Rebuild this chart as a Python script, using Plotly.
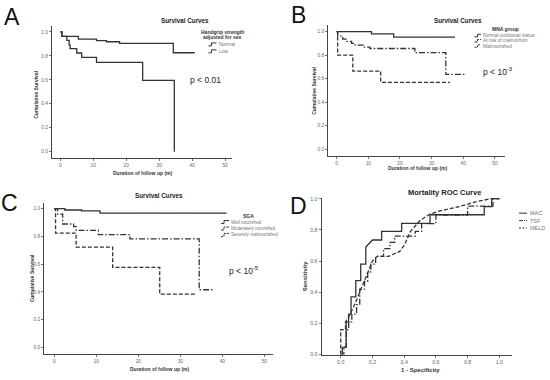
import plotly.graph_objects as go

W, H = 550, 380

# ---------------- data ----------------
# A: Handgrip strength adjusted for sex
a_normal_t = [0, 0.5, 5.5, 11, 14, 18, 34.3, 40.8]
a_normal_s = [1.0, 0.963, 0.94, 0.928, 0.918, 0.905, 0.826, 0.826]
a_low_t = [0, 0.5, 2, 2.7, 3, 5, 6.5, 11, 25, 34.6]
a_low_s = [1.0, 0.963, 0.93, 0.89, 0.86, 0.824, 0.787, 0.746, 0.596, 0.0]

# B: MNA group
b_normal_t = [0, 11, 18, 37.4]
b_normal_s = [1.0, 0.98, 0.952, 0.952]
b_risk_t = [0, 0.3, 1.9, 3.2, 4.7, 5.8, 8.4, 10.5, 24.7, 34.5, 40.5]
b_risk_s = [1.0, 0.962, 0.935, 0.916, 0.9, 0.885, 0.868, 0.856, 0.82, 0.636, 0.636]
b_mal_t = [0, 0.3, 5.1, 13.9, 35.8]
b_mal_s = [1.0, 0.8, 0.664, 0.568, 0.568]

# C: SGA
c_well_t = [0, 2.5, 6.5, 10.9, 41]
c_well_s = [1.0, 0.99, 0.983, 0.967, 0.967]
c_mod_t = [0, 0.8, 2.0, 4.6, 5.2, 10.5, 18, 34.5, 37.7]
c_mod_s = [1.0, 0.96, 0.889, 0.87, 0.843, 0.812, 0.782, 0.415, 0.415]
c_sev_t = [0, 0.3, 5.2, 13.9, 25.1, 33.9]
c_sev_s = [1.0, 0.823, 0.723, 0.576, 0.384, 0.384]

# D: ROC curves
mac_fpr = [0, 0.01, 0.01, 0.034, 0.034, 0.05, 0.05, 0.065, 0.065, 0.095, 0.095, 0.126, 0.126,
           0.158, 0.158, 0.2, 0.258, 0.258, 0.384, 0.384, 0.563, 0.563, 0.905, 0.905, 0.952, 0.952, 1.0]
mac_tpr = [0, 0, 0.046, 0.046, 0.21, 0.21, 0.26, 0.26, 0.37, 0.37, 0.475, 0.475, 0.58,
           0.58, 0.69, 0.735, 0.735, 0.79, 0.79, 0.842, 0.842, 0.897, 0.897, 0.949, 0.949, 1.0, 1.0]
tsf_fpr = [0, 0.02, 0.02, 0.035, 0.035, 0.05, 0.05, 0.07, 0.07, 0.1, 0.1, 0.12, 0.12, 0.15, 0.15,
           0.17, 0.17, 0.19, 0.19, 0.22, 0.22, 0.27, 0.27, 0.31, 0.31, 0.34, 0.34, 0.47, 0.47,
           0.51, 0.51, 0.6, 0.6, 0.8, 0.8, 0.96, 0.96, 1.0]
tsf_tpr = [0, 0, 0.05, 0.05, 0.16, 0.16, 0.21, 0.21, 0.26, 0.26, 0.32, 0.32, 0.42, 0.42, 0.47,
           0.47, 0.53, 0.53, 0.58, 0.58, 0.63, 0.63, 0.68, 0.68, 0.72, 0.72, 0.76, 0.76, 0.79,
           0.79, 0.84, 0.84, 0.895, 0.895, 0.952, 0.952, 1.0, 1.0]
meld_fpr = [0, 0, 0.03, 0.03, 0.06, 0.08, 0.1, 0.12, 0.14, 0.16, 0.18, 0.2, 0.23, 0.3, 0.37,
            0.4, 0.44, 0.5, 0.56, 0.62, 0.75, 0.85, 0.95, 1.0]
meld_tpr = [0, 0.16, 0.16, 0.21, 0.26, 0.3, 0.35, 0.4, 0.45, 0.5, 0.55, 0.6, 0.63, 0.63, 0.66,
            0.7, 0.79, 0.86, 0.9, 0.92, 0.95, 0.98, 1.0, 1.0]

km_ticks = [0, 10, 20, 30, 40, 50]
prob_ticks = [0.0, 0.2, 0.4, 0.6, 0.8, 1.0]

# ---------------- styling helpers ----------------
FONT = "Arial, Liberation Sans, sans-serif"
LINE = "#333333"
SOLID = "solid"
DASH = "4px,2px"
DASHDOT = "6px,2px,1.5px,2px"


def px(x):
    return x / W


def py(y):
    return 1 - y / H


fig = go.Figure()


def add(t, s, dash, xa, ya, shape="hv", name=None):
    fig.add_trace(go.Scatter(x=t, y=s, mode="lines", line_shape=shape,
                             line=dict(color=LINE, width=1.3, dash=dash),
                             xaxis=xa, yaxis=ya, showlegend=False, name=name,
                             hoverinfo="skip"))


add(a_normal_t, a_normal_s, SOLID, "x", "y", name="Normal")
add(a_low_t, a_low_s, SOLID, "x", "y", name="Low")
add(b_normal_t, b_normal_s, SOLID, "x2", "y2", name="Normal nutritional status")
add(b_risk_t, b_risk_s, DASHDOT, "x2", "y2", name="At risk of malnutrition")
add(b_mal_t, b_mal_s, DASH, "x2", "y2", name="Malnourished")
add(c_well_t, c_well_s, SOLID, "x3", "y3", name="Well nourished")
add(c_mod_t, c_mod_s, DASHDOT, "x3", "y3", name="Moderately nourished")
add(c_sev_t, c_sev_s, DASH, "x3", "y3", name="Severely malnourished")
add(mac_fpr, mac_tpr, SOLID, "x4", "y4", shape="linear", name="MAC")
add(tsf_fpr, tsf_tpr, DASHDOT, "x4", "y4", shape="linear", name="TSF")
add(meld_fpr, meld_tpr, DASH, "x4", "y4", shape="linear", name="MELD")


def axis(domain_px, rng, ticks, fmt, horizontal, anchor, size=4.8):
    if horizontal:
        dom = [px(domain_px[0]), px(domain_px[1])]
    else:
        dom = [py(domain_px[1]), py(domain_px[0])]
    return dict(domain=dom, range=rng, tickvals=ticks, tickformat=fmt,
                showline=True, linecolor="#444", linewidth=1.2, ticks="outside",
                ticklen=2, tickcolor="#777", tickwidth=0.8,
                tickfont=dict(size=size, color="#666", family=FONT),
                showgrid=False, zeroline=False, anchor=anchor, fixedrange=True)


layout = dict(
    width=W, height=H, margin=dict(l=0, r=0, t=0, b=0),
    paper_bgcolor="white", plot_bgcolor="white", showlegend=False,
    font=dict(family=FONT),
    xaxis=axis([52, 232], [-2.5, 52.1], km_ticks, "d", True, "y"),
    yaxis=axis([24, 158], [-0.052, 1.052], prob_ticks, ".1f", False, "x"),
    xaxis2=axis([328.3, 505], [-2.65, 53.2], km_ticks, "d", True, "y2"),
    yaxis2=axis([23.3, 155.7], [-0.056, 1.056], prob_ticks, ".1f", False, "x2"),
    xaxis3=axis([44.3, 273], [-2.38, 52.07], km_ticks, "d", True, "y3"),
    yaxis3=axis([203.3, 356.7], [-0.048, 1.043], prob_ticks, ".1f", False, "x3"),
    xaxis4=axis([321.7, 511.7], [-0.12, 1.078], prob_ticks, ".1f", True, "y4", 5.3),
    yaxis4=axis([198.5, 357.3], [0, 1.005], prob_ticks, ".1f", False, "x4", 5.3),
)
fig.update_layout(**layout)

ann = []


def text(x, y, s, size=5, color="#333", bold=False, xanchor="center", angle=0):
    if bold:
        s = "<b>" + s + "</b>"
    ann.append(dict(x=px(x), y=py(y), xref="paper", yref="paper", text=s, showarrow=False,
                    xanchor=xanchor, yanchor="middle", textangle=angle,
                    font=dict(size=size, color=color, family=FONT)))


# panel letters
text(12, 15, "A", 23, "#111")
text(299, 13, "B", 23, "#111")
text(9, 203.5, "C", 23, "#111")
text(299, 207, "D", 23, "#111")

# titles
text(185, 19, "Survival Curves", 6.3, "#222", True)
text(458, 19, "Survival Curves", 6.3, "#222", True)
text(159, 196, "Survival Curves", 6.3, "#222", True)
text(444, 193.5, "Mortality ROC Curve", 7.5, "#222", True)

# axis titles
text(142, 173, "Duration of follow up (m)", 5, "#333", True)
text(36, 94, "Cumulative Survival", 5, "#333", True, angle=-90)
text(417, 168, "Duration of follow up (m)", 5, "#333", True)
text(314, 90, "Cumulative Survival", 5, "#333", True, angle=-90)
text(159, 371.5, "Duration of follow up (m)", 5, "#333", True)
text(32, 280, "Cumulative Survival", 5, "#333", True, angle=-90)
text(420, 373, "1 - Specificity", 6, "#333", True)
text(305, 278, "Sensitivity", 6, "#333", True, angle=-90)

# p values
text(205, 79, "p < 0.01", 8.5, "#222")
text(498, 70, "p < 10<sup>-3</sup>", 8.5, "#222")
text(244, 272, "p < 10<sup>-5</sup>", 8.5, "#222")

# legends
text(222, 30, "Handgrip strength", 5, "#333", True)
text(222, 35, "adjusted for sex", 5, "#333", True)
text(217, 43, "Normal", 5, "#777", xanchor="left")
text(217, 50, "Low", 5, "#777", xanchor="left")

text(505, 27, "MNA group", 5, "#333", True)
text(481, 34, "Normal nutritional status", 4.8, "#777", xanchor="left")
text(481, 39.3, "At risk of malnutrition", 4.8, "#777", xanchor="left")
text(481, 44.6, "Malnourished", 4.8, "#777", xanchor="left")

text(248, 217, "SGA", 5, "#333", True)
text(229, 223, "Well nourished", 4.6, "#777", xanchor="left")
text(229, 229.5, "Moderately nourished", 4.6, "#777", xanchor="left")
text(229, 236, "Severely malnourished", 4.6, "#777", xanchor="left")

text(528, 214, "MAC", 5.5, "#777", xanchor="left")
text(528, 221.5, "TSF", 5.5, "#777", xanchor="left")
text(528, 229, "MELD", 5.5, "#777", xanchor="left")

shapes = []


def glyph(x, y, dash, w=7, hgt=3):
    # small step glyph used as legend key
    path = "M {:.4f},{:.4f} L {:.4f},{:.4f} L {:.4f},{:.4f} L {:.4f},{:.4f}".format(
        px(x), py(y + hgt / 2), px(x + 3), py(y + hgt / 2), px(x + 3), py(y - hgt / 2),
        px(x + w), py(y - hgt / 2))
    shapes.append(dict(type="path", xref="paper", yref="paper", path=path,
                       line=dict(color="#333", width=1, dash=dash)))


def keyline(x, y, dash):
    shapes.append(dict(type="line", xref="paper", yref="paper", x0=px(x), x1=px(x + 8),
                       y0=py(y), y1=py(y), line=dict(color="#333", width=1, dash=dash)))


glyph(208.5, 43, SOLID, 8)
glyph(208.5, 50, SOLID, 8)
glyph(474.5, 34, SOLID, 6.5, 2.5)
glyph(474.5, 39.3, "3px,1px", 6.5, 2.5)
glyph(474.5, 44.6, "2px,1px", 6.5, 2.5)
glyph(221, 223, SOLID, 8)
glyph(221, 229.5, "3px,1px", 8)
glyph(221, 236, "2px,1px", 8)
keyline(519, 214, SOLID)
keyline(519, 221.5, "4px,1px,1px,1px")
keyline(519, 229, "2px,1.5px")

fig.update_layout(annotations=ann, shapes=shapes)
fig.write_html("out.html", config={"displayModeBar": False},
               post_script="document.body.style.margin='0px';document.body.style.padding='0px';"
                           "document.documentElement.style.overflow='hidden';")
